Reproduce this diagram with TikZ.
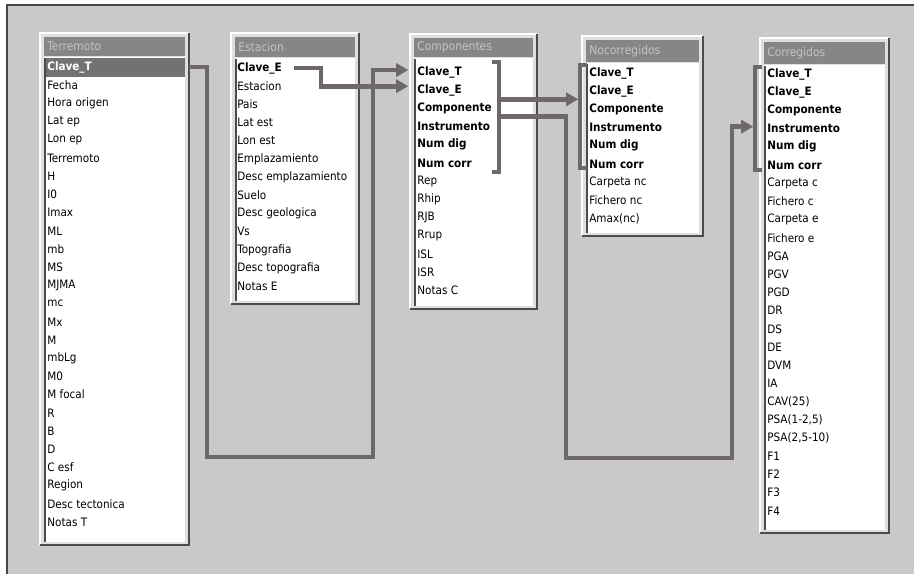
\documentclass[tikz,border=0pt]{standalone}
\usepackage{fontspec}
\setmainfont{DejaVu Sans Condensed}
\usetikzlibrary{arrows.meta,calc}
\definecolor{paper}{HTML}{C9C9C9}
\definecolor{linkgrey}{HTML}{6E6868}
\definecolor{bargrey}{HTML}{878585}
\definecolor{bartext}{HTML}{C4C4C4}
\tikzset{
  field/.style={anchor=west, inner sep=0pt, font=\fontsize{6.6}{8}\selectfont},
  keyfield/.style={field, font=\fontsize{6.6}{8}\selectfont\bfseries},
  wintitle/.style={anchor=west, inner sep=0pt, text=bartext, font=\fontsize{6.8}{8}\selectfont},
  link/.style={draw=linkgrey, line width=2.8pt},
  linkarrow/.style={link, -{Triangle[length=0.24cm,width=0.26cm]}, shorten >=1pt}
}
% window of one table: name, left, right, top, title bottom, bottom, title
\newcommand{\dbwindow}[7]{%
  \fill[gray!25] (#2,#4) rectangle (#3,#6);
  \draw[white, line width=1pt] (#2,#6) -- (#2,#4) -- (#3,#4);
  \draw[gray!60!black, line width=1pt] (#2,#6) -- (#3,#6) -- (#3,#4);
  \fill[bargrey] (#2+4,#4+4) rectangle (#3-4,#5);
  \fill[white] (#2+4,#5+1) rectangle (#3-4,#6-3);
  \draw[black!70, line width=0.8pt] (#2+5,#5+2) -- (#2+5,#6-3);
  \node[wintitle] (#1-title) at (#2+7,{(#4+4+#5)/2}) {#7};
  \coordinate (#1-L) at (#2,#4);
  \coordinate (#1-R) at (#3,#4);
}
% rows of one table: name, x, y of first row, first count, style, fields
\newcommand{\dbrows}[6]{%
  \foreach \f [count=\i from #4] in {#6}
    \node[#5] (#1-\i) at (#2,{#3+18.2*(\i-1)}) {\f};
}
\begin{document}
\begin{tikzpicture}[x=0.02cm,y=-0.02cm]
\useasboundingbox (0,0) rectangle (914,574);
\fill[white] (0,0) rectangle (914,574);
\fill[paper] (7,5) rectangle (914,574);
\draw[gray!55!black, line width=0.6pt] (7,574) -- (7,5) -- (914,5);

% tables
\dbwindow{terr}{40}{189}{33}{56}{545}{Terremoto}
\fill[bargrey!85!black] (46,58) rectangle (185,77);
\node[keyfield, text=white] (terr-1) at (47,67) {Clave\_T};
\dbrows{terr}{47}{67}{2}{field}{Fecha,Hora origen,Lat ep,Lon ep,Terremoto,H,I0,Imax,ML,mb,MS,MJMA,mc,Mx,M,mbLg,M0,M focal,R,B,D,C esf,Region,Desc tectonica,Notas T}

\dbwindow{esta}{231}{359}{33}{57}{304}{Estacion}
\dbrows{esta}{237}{68}{1}{keyfield}{Clave\_E}
\dbrows{esta}{237}{68}{2}{field}{Estacion,Pais,Lat est,Lon est,Emplazamiento,Desc emplazamiento,Suelo,Desc geologica,Vs,Topografia,Desc topografia,Notas E}

\dbwindow{comp}{410}{537}{34}{57}{309}{Componentes}
\dbrows{comp}{417}{72}{1}{keyfield}{Clave\_T,Clave\_E,Componente,Instrumento,Num dig,Num corr}
\dbrows{comp}{417}{72}{7}{field}{Rep,Rhip,RJB,Rrup,ISL,ISR,Notas C}

\dbwindow{noco}{582}{703}{36}{62}{236}{Nocorregidos}
\dbrows{noco}{589}{73}{1}{keyfield}{Clave\_T,Clave\_E,Componente,Instrumento,Num dig,Num corr}
\dbrows{noco}{589}{73}{7}{field}{Carpeta nc,Fichero nc,Amax(nc)}

\dbwindow{corr}{760}{889}{38}{64}{533}{Corregidos}
\dbrows{corr}{767}{74}{1}{keyfield}{Clave\_T,Clave\_E,Componente,Instrumento,Num dig,Num corr}
\dbrows{corr}{767}{74}{7}{field}{Carpeta c,Fichero c,Carpeta e,Fichero e,PGA,PGV,PGD,DR,DS,DE,DVM,IA,CAV(25),{PSA(1-2,5)},{PSA(2,5-10)},F1,F2,F3,F4}

% brackets round the keys
\coordinate (cbk) at (499,0);
\coordinate (nbk) at (580,0);
\coordinate (kbk) at (755,0);
\draw[link] ($(comp-1 -| cbk)+(-7,-10)$) -- ($(comp-1 -| cbk)+(0,-10)$) -- ($(comp-6 -| cbk)+(0,9)$) -- ++(-7,0);
\draw[link] ($(noco-1 -| nbk)+(7,-8)$) -- ($(noco-1 -| nbk)+(0,-8)$) -- ($(noco-6 -| nbk)+(0,4)$) -- ++(7,0);
\draw[link] ($(corr-1 -| kbk)+(7,-7)$) -- ($(corr-1 -| kbk)+(0,-7)$) -- ($(corr-6 -| kbk)+(0,5)$) -- ++(7,0);

% relations
\coordinate (t1) at (207,457);
\coordinate (t2) at (373,457);
\draw[linkarrow] (terr-1 -| terr-R) -| (t1) -- (t2) |- ($(comp-1 -| comp-L)+(0,-2)$);
\coordinate (e1) at (321,80);
\draw[linkarrow] ($(esta-1.east)+(12,0)$) -| (e1) |- ($(comp-2 -| comp-L)+(0,-4)$);
\coordinate (c3) at ($(comp-2 -| cbk)!0.5!(comp-3 -| cbk)$);
\draw[linkarrow] (c3) -- (c3 -| nbk);
\coordinate (c4) at ($(comp-3 -| cbk)+(0,8)$);
\coordinate (k1) at (566,458);
\coordinate (k2) at (732,458);
\draw[linkarrow] (c4) -| (k1) -- (k2) |- ($(corr-4 -| kbk)+(0,-2)$);
\end{tikzpicture}
\end{document}
